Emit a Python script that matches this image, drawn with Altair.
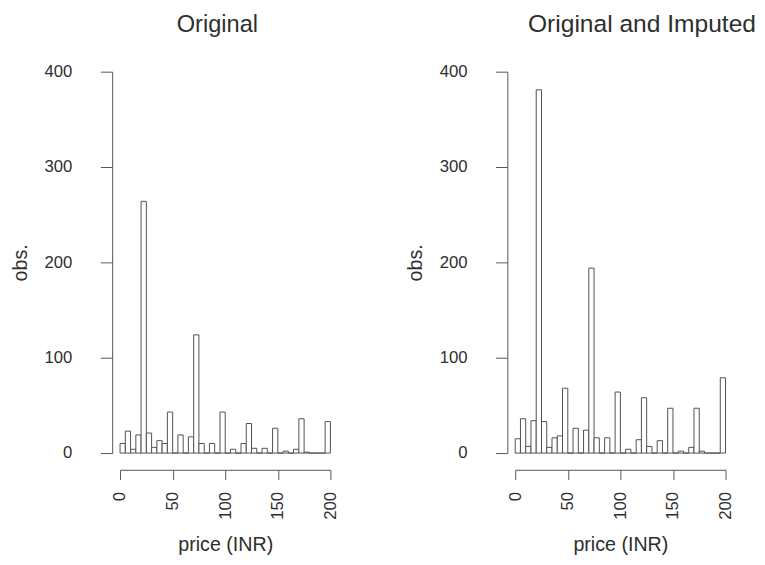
import altair as alt
import pandas as pd

# histogram bins of width 5 from 0 to 200 (price, INR)
bin_start = list(range(0, 200, 5))
original = [10, 23, 4, 19, 264, 21, 6, 13, 10, 43, 0, 19, 0, 17, 124, 10, 0, 10, 0, 43,
            0, 4, 0, 10, 31, 5, 0, 5, 0, 26, 0, 2, 0, 4, 36, 1, 0, 0, 0, 33]
imputed = [15, 36, 7, 34, 381, 33, 6, 16, 18, 68, 0, 26, 0, 24, 194, 16, 0, 16, 0, 64,
           0, 4, 0, 14, 58, 7, 0, 13, 0, 47, 0, 2, 0, 6, 47, 2, 0, 0, 0, 79]
x_ticks = [0, 50, 100, 150, 200]
y_ticks = [0, 100, 200, 300, 400]
panel_titles = ["Original", "Original and Imputed"]

FONT = "Liberation Sans"
TEXT = "#2e2e2e"
LINE = "#555555"


def panel(values, title, dx, size):
    df = pd.DataFrame({
        "start": bin_start,
        "end": [b + 5 for b in bin_start],
        "count": values,
    })
    return alt.Chart(
        df,
        title=alt.TitleParams(title, fontSize=size, font=FONT, fontWeight="normal",
                              color=TEXT, anchor="middle", offset=26, dx=dx),
    ).mark_rect(fill="white", stroke="#505050", strokeWidth=1).encode(
        x=alt.X("start:Q",
                scale=alt.Scale(domain=[0, 200], nice=False, zero=False),
                axis=alt.Axis(values=x_ticks, title="price (INR)", offset=17,
                              labelAngle=270, tickSize=10, labelPadding=12,
                              titlePadding=16)),
        x2="end:Q",
        y=alt.Y("count:Q",
                scale=alt.Scale(domain=[0, 400], nice=False),
                axis=alt.Axis(values=y_ticks, title="obs.", offset=8,
                              tickSize=12, labelPadding=29, titlePadding=14)),
        y2=alt.datum(0),
    ).properties(width=214, height=388)


chart = alt.hconcat(
    panel(original, panel_titles[0], -8, 24),
    panel(imputed, panel_titles[1], 22, 25),
    spacing=68,
).properties(
    padding={"left": 2, "top": 0, "right": 0, "bottom": 0}
).configure_view(strokeWidth=0).configure_axis(
    grid=False,
    domainColor=LINE,
    tickColor=LINE,
    labelFont=FONT,
    labelFontSize=17,
    labelColor=TEXT,
    titleFont=FONT,
    titleFontSize=20,
    titleFontWeight="normal",
    titleColor=TEXT,
)

chart.save("out.html", embed_options={"renderer": "svg", "actions": False})
